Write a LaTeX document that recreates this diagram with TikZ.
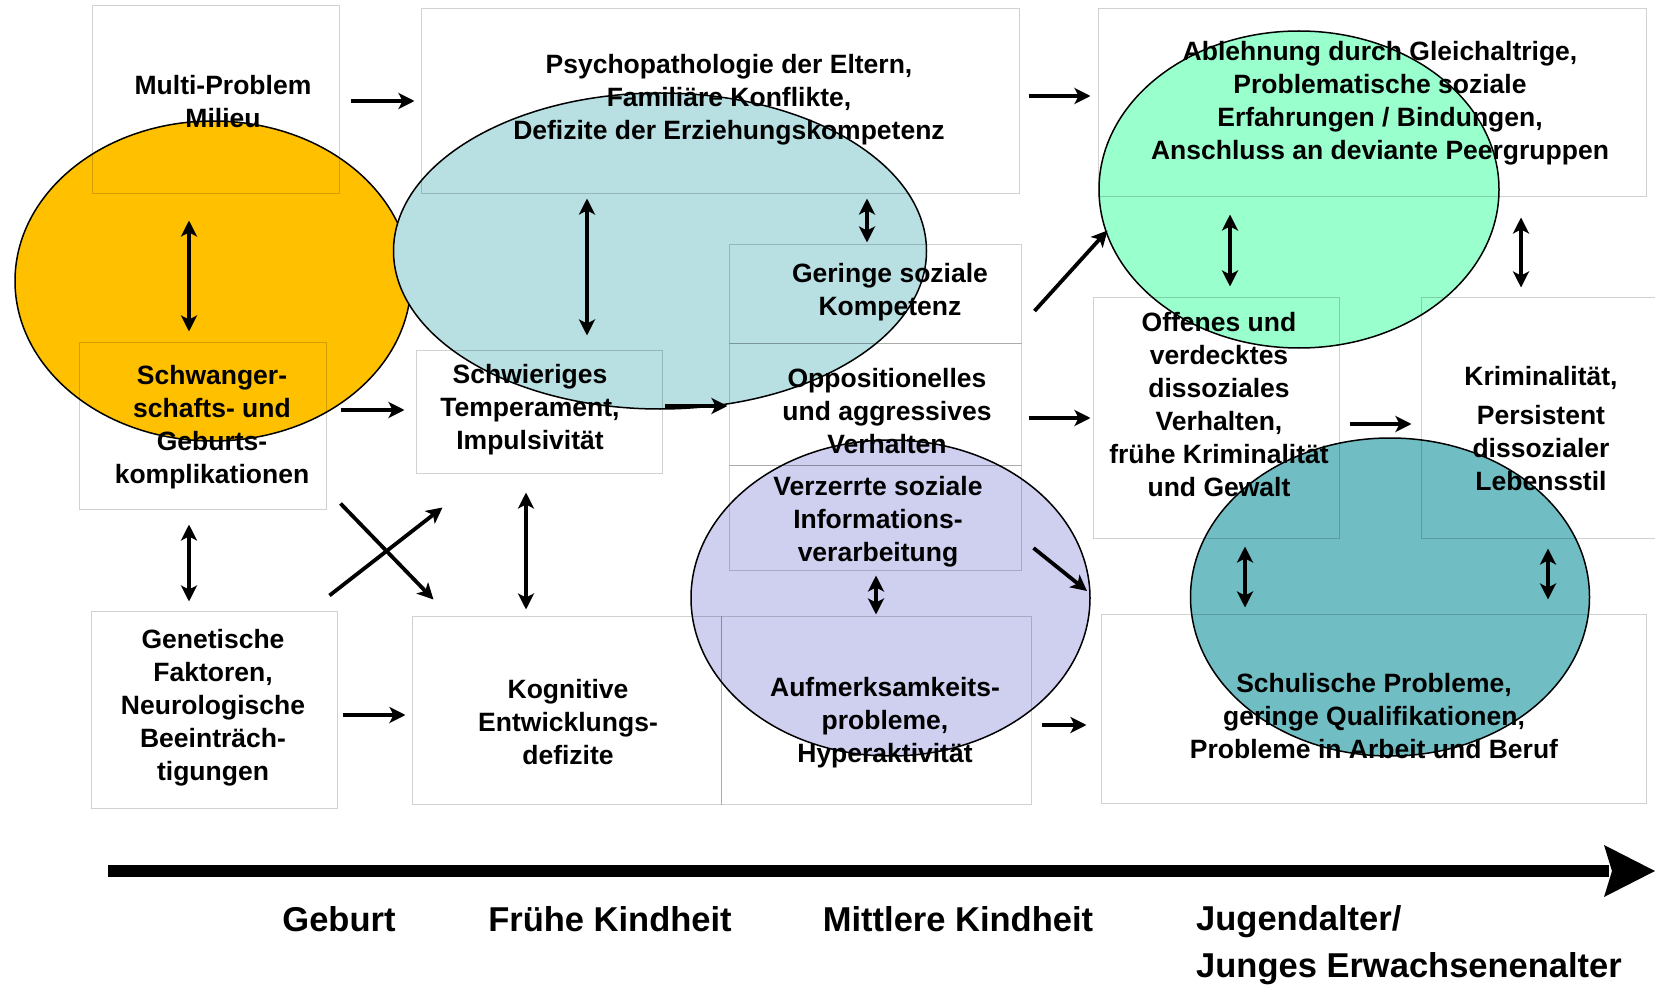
\documentclass[tikz,border=0pt]{standalone}
\usepackage{fontspec}
\setmainfont{Liberation Sans}
\usetikzlibrary{arrows.meta, calc, shapes.geometric}

\definecolor{orangeC}{HTML}{FFC000}
\definecolor{blauC}{HTML}{B8DFE2}
\definecolor{gruenC}{HTML}{99FFCC}
\definecolor{lilaC}{HTML}{CFCFEF}
\definecolor{tuerkisC}{HTML}{70BEC4}

\tikzset{
  kasten/.style={draw=black, draw opacity=0.18, line width=1pt, inner sep=0pt},
  blase/.style={ellipse, draw=black, line width=1.5pt, inner sep=0pt, outer sep=0pt},
  txt/.style={align=center, inner sep=0pt, font=\bfseries\fontsize{26.5}{33}\selectfont},
  phase/.style={inner sep=0pt, font=\bfseries\fontsize{34.5}{47.5}\selectfont},
  pfeil/.style={->, line width=3.8pt},
  doppel/.style={<->, line width=3.8pt}
}

\begin{document}
\begin{tikzpicture}[x=1pt, y=-1pt, >={Stealth[length=16pt,width=16pt,inset=4pt]}]
\useasboundingbox (0,0) rectangle (1655,987);

% Blasen
\node[blase, fill=orangeC, minimum width=396pt, minimum height=320pt] (orange) at (213,281) {};
\node[blase, fill=blauC, minimum width=533pt, minimum height=316pt] (blau) at (660,251) {};
\node[blase, fill=gruenC, minimum width=400pt, minimum height=317pt] (gruen) at (1299,189.5) {};
\node[blase, fill=lilaC, minimum width=399pt, minimum height=316pt] (lila) at (890.5,598) {};
\node[blase, fill=tuerkisC, minimum width=399pt, minimum height=318pt] (tuerkis) at (1390,597) {};

% Kaesten
\node[kasten, minimum width=247pt, minimum height=188pt] (multi) at (215.5,100) {};
\node[kasten, minimum width=598pt, minimum height=185pt] (psych) at (720,101.5) {};
\node[kasten, minimum width=548pt, minimum height=188pt] (ablehn) at (1372,103) {};
\node[kasten, minimum width=292pt, minimum height=98pt] (gering) at (875,294) {};
\node[kasten, minimum width=292pt, minimum height=122pt] (oppos) at (875,404) {};
\node[kasten, minimum width=292pt, minimum height=105pt] (verzerrt) at (875,517.5) {};
\node[kasten, minimum width=247pt, minimum height=167pt] (schwanger) at (202.5,425.5) {};
\node[kasten, minimum width=246pt, minimum height=123pt] (schwierig) at (539,411.5) {};
\node[kasten, minimum width=246pt, minimum height=241pt] (offen) at (1216,417.5) {};
\node[kasten, minimum width=237pt, minimum height=241pt] (krimi) at (1539.5,417.5) {};
\node[kasten, minimum width=246pt, minimum height=197pt] (genet) at (214,709.5) {};
\node[kasten, minimum width=309pt, minimum height=188pt] (kogn) at (566.5,710) {};
\node[kasten, minimum width=310pt, minimum height=188pt] (aufm) at (876,710) {};
\node[kasten, minimum width=545pt, minimum height=189pt] (schul) at (1373.5,708.5) {};

% Texte
\node[txt] (multiT) at (223,101.5) {Multi-Problem\\Milieu};
\node[txt] (psychT) at (729,100) {Psychopathologie der Eltern,\\Familiäre Konflikte,\\Defizite der Erziehungskompetenz};
\node[txt] (ablehnT) at (1380,103) {Ablehnung durch Gleichaltrige,\\Problematische soziale\\Erfahrungen / Bindungen,\\Anschluss an deviante Peergruppen};
\node[txt] (geringT) at (890,292) {Geringe soziale\\Kompetenz};
\node[txt] (opposT) at (887,411) {Oppositionelles\\und aggressives\\Verhalten};
\node[txt] (verzerrtT) at (878,521.5) {Verzerrte soziale\\Informations-\\verarbeitung};
\node[txt] (schwangerT) at (212,427.5) {Schwanger-\\schafts- und\\Geburts-\\komplikationen};
\node[txt] (schwierigT) at (530,410) {Schwieriges\\Temperament,\\Impulsivität};
\node[txt] (offenT) at (1219,405) {Offenes und\\verdecktes\\dissoziales\\Verhalten,\\frühe Kriminalität\\und Gewalt};
\node[txt] (krimiT) at (1541,429) {Kriminalität,\\[6pt]Persistent\\dissozialer\\Lebensstil};
\node[txt] (genetT) at (213,708) {Genetische\\Faktoren,\\Neurologische\\Beeinträch-\\tigungen};
\node[txt] (kognT) at (568,722.5) {Kognitive\\Entwicklungs-\\defizite};
\node[txt] (aufmT) at (885,722.5) {Aufmerksamkeits-\\probleme,\\Hyperaktivität};
\node[txt] (schulT) at (1374,716) {Schulische Probleme,\\geringe Qualifikationen,\\Probleme in Arbeit und Beruf};

% Pfeile
\draw[pfeil] ($(multi.east)+(11,1)$) -- ($(psych.west)+(-6,-0.5)$);
\draw[pfeil] ($(psych.east)+(9,-5.5)$) -- ($(ablehn.west)+(-7,-7)$);
\draw[doppel] ($(multi.south)+(-26.5,26)$) -- ($(schwanger.north)+(-13.5,-10)$);
\draw[doppel] ($(psych.south)+(-133,4)$) -- ($(schwierig.north)+(48,-14)$);
\draw[doppel] ($(psych.south)+(147,4)$) -- ($(gering.north)+(-8,-2)$);
\draw[pfeil] ($(gering.east)+(13,17)$) -- ($(ablehn.south west)+(10,33)$);
\draw[doppel] ($(ablehn.south)+(-142,17)$) -- ($(offen.north)+(14,-10)$);
\draw[doppel] ($(ablehn.south)+(149,20)$) -- ($(krimi.north)+(-18.5,-9)$);
\draw[pfeil] ($(schwanger.east)+(14,-15.5)$) -- ($(schwierig.west)+(-11,-1.5)$);
\draw[pfeil] ($(schwierig.east)+(2,-5.5)$) -- ($(oppos.west)+(-1,2)$);
\draw[pfeil] ($(oppos.east)+(7,14)$) -- ($(offen.west)+(-2,0.5)$);
\draw[pfeil] ($(offen.east)+(10,6.5)$) -- ($(krimi.west)+(-9,6.5)$);
\draw[doppel] ($(schwanger.south)+(-13.5,15)$) -- ($(genet.north)+(-25,-9)$);
\draw[pfeil] ($(schwanger.south east)+(14,-6)$) -- ($(kogn.north west)+(22,-16)$);
\draw[pfeil] ($(genet.north east)+(-8,-15)$) -- ($(schwierig.south west)+(27,34)$);
\draw[doppel] ($(schwierig.south)+(-13,19)$) -- ($(kogn.north)+(-40.5,-6)$);
\draw[pfeil] ($(genet.east)+(5,5.5)$) -- ($(kogn.west)+(-6,5)$);
\draw[pfeil] ($(verzerrt.east)+(12,30.5)$) -- ($(lila.east)+(-3,-7)$);
\draw[doppel] ($(verzerrt.south)+(1,5)$) -- ($(aufm.north)+(0,-1)$);
\draw[pfeil] ($(aufm.east)+(10,15)$) -- ($(schul.west)+(-14,16.5)$);
\draw[doppel] ($(offen.south)+(29,8)$) -- ($(schul.north)+(-128.5,-6)$);
\draw[doppel] ($(krimi.south)+(8.5,10)$) -- ($(schul.north)+(174.5,-14)$);

% Zeitachse
\coordinate (zeitA) at (108,871);
\coordinate (zeitB) at (1655,871);
\draw[line width=12pt] (zeitA) -- ($(zeitB)+(-46,0)$);
\fill (zeitB) -- ++(-51,-26) -- ++(8,26) -- ++(-8,26) -- cycle;

\node[phase, anchor=base] (geburt) at (339,931) {Geburt};
\node[phase, anchor=base] (frueh) at (610,931) {Frühe Kindheit};
\node[phase, anchor=base] (mittel) at (958,931) {Mittlere Kindheit};
\node[phase, anchor=west, align=left] (jugend) at (1196,945) {Jugendalter/\\Junges Erwachsenenalter};
\end{tikzpicture}
\end{document}
